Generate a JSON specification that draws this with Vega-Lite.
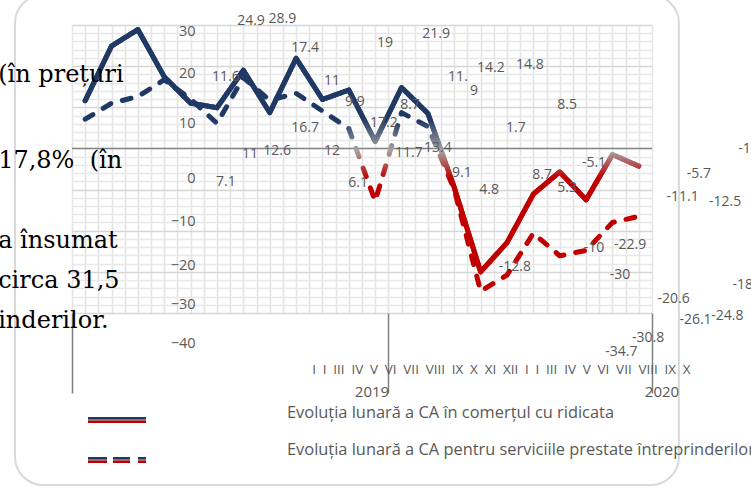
{
  "$schema": "https://vega.github.io/schema/vega-lite/v6.json",
  "width": 580,
  "height": 288,
  "autosize": {"type": "none"},
  "padding": {"left": 72, "top": 25, "right": 99, "bottom": 175},
  "background": "white",
  "config": {"view": {"stroke": null}, "text": {"font": "Open Sans"}},
  "resolve": {"axis": {"x": "independent", "y": "independent"}},
  "datasets": {
    "series": [
      {"s": "A", "m": 1, "v": 11.6}, {"s": "A", "m": 2, "v": 24.9}, {"s": "A", "m": 3, "v": 28.9},
      {"s": "A", "m": 4, "v": 17.4}, {"s": "A", "m": 5, "v": 11}, {"s": "A", "m": 6, "v": 9.9},
      {"s": "A", "m": 7, "v": 19}, {"s": "A", "m": 8, "v": 8.7}, {"s": "A", "m": 9, "v": 21.9},
      {"s": "A", "m": 10, "v": 11.9}, {"s": "A", "m": 11, "v": 14.2}, {"s": "A", "m": 12, "v": 1.7},
      {"s": "A", "m": 13, "v": 14.8}, {"s": "A", "m": 14, "v": 8.5}, {"s": "A", "m": 15, "v": -9.5},
      {"s": "A", "m": 16, "v": -30}, {"s": "A", "m": 17, "v": -22.9}, {"s": "A", "m": 18, "v": -11.1},
      {"s": "A", "m": 19, "v": -5.7}, {"s": "A", "m": 20, "v": -12.5}, {"s": "A", "m": 21, "v": -1.5},
      {"s": "A", "m": 22, "v": -4.3},
      {"s": "B", "m": 1, "v": 7.1}, {"s": "B", "m": 2, "v": 11}, {"s": "B", "m": 3, "v": 12.6},
      {"s": "B", "m": 4, "v": 16.7}, {"s": "B", "m": 5, "v": 12}, {"s": "B", "m": 6, "v": 6.1},
      {"s": "B", "m": 7, "v": 17.2}, {"s": "B", "m": 8, "v": 11.7}, {"s": "B", "m": 9, "v": 13.4},
      {"s": "B", "m": 10, "v": 9.1}, {"s": "B", "m": 11, "v": 4.8}, {"s": "B", "m": 12, "v": -12.8},
      {"s": "B", "m": 13, "v": 8.7}, {"s": "B", "m": 14, "v": 5.3}, {"s": "B", "m": 15, "v": -10},
      {"s": "B", "m": 16, "v": -34.7}, {"s": "B", "m": 17, "v": -30.8}, {"s": "B", "m": 18, "v": -20.6},
      {"s": "B", "m": 19, "v": -26.1}, {"s": "B", "m": 20, "v": -24.8}, {"s": "B", "m": 21, "v": -18},
      {"s": "B", "m": 22, "v": -16.5}
    ],
    "labels": [
      {"lab": "24.9", "m": 7.29, "v": 30.97}, {"lab": "28.9", "m": 8.48, "v": 31.46},
      {"lab": "17.4", "m": 9.34, "v": 24.41}, {"lab": "11.6", "m": 6.34, "v": 17.36},
      {"lab": "11", "m": 10.36, "v": 16.39}, {"lab": "9.9", "m": 11.23, "v": 11.28},
      {"lab": "16.7", "m": 9.34, "v": 4.97}, {"lab": "12", "m": 10.36, "v": -0.63},
      {"lab": "11", "m": 7.25, "v": -1.35}, {"lab": "12.6", "m": 8.28, "v": -0.63},
      {"lab": "7.1", "m": 6.34, "v": -8.16}, {"lab": "6.1", "m": 11.35, "v": -8.4},
      {"lab": "19", "m": 12.37, "v": 25.62}, {"lab": "21.9", "m": 14.31, "v": 27.81},
      {"lab": "11.", "m": 15.14, "v": 17.36}, {"lab": "9", "m": 15.75, "v": 13.96},
      {"lab": "14.2", "m": 16.39, "v": 19.55}, {"lab": "14.8", "m": 17.87, "v": 20.28},
      {"lab": "8.5", "m": 19.28, "v": 10.55}, {"lab": "1.7", "m": 17.34, "v": 4.97},
      {"lab": "8.7", "m": 13.32, "v": 10.55}, {"lab": "17.2", "m": 12.33, "v": 6.18},
      {"lab": "11.7", "m": 13.28, "v": -1.11}, {"lab": "13.4", "m": 14.38, "v": 0.1},
      {"lab": "9.1", "m": 15.29, "v": -5.97}, {"lab": "4.8", "m": 16.32, "v": -10.11},
      {"lab": "8.7", "m": 18.33, "v": -6.46}, {"lab": "5.3", "m": 19.28, "v": -9.62},
      {"lab": "-5.1", "m": 20.3, "v": -3.54}, {"lab": "-12.8", "m": 17.3, "v": -28.82},
      {"lab": "-10", "m": 20.3, "v": -24.2}, {"lab": "-22.9", "m": 21.67, "v": -23.47},
      {"lab": "-30", "m": 21.29, "v": -30.77}, {"lab": "-5.7", "m": 24.28, "v": -6.22},
      {"lab": "-11.1", "m": 23.66, "v": -11.88}, {"lab": "-12.5", "m": 25.27, "v": -12.94},
      {"lab": "-20.6", "m": 23.32, "v": -36.6}, {"lab": "-26.1", "m": 24.15, "v": -41.7},
      {"lab": "-24.8", "m": 25.36, "v": -40.73}, {"lab": "-30.8", "m": 22.35, "v": -46.08},
      {"lab": "-34.7", "m": 21.34, "v": -49.41}, {"lab": "-18.4", "m": 26.16, "v": -33.2},
      {"lab": "-16.5", "m": 26.38, "v": -0.14}
    ]
  },
  "layer": [
    {
      "data": {"values": [{}]},
      "mark": {"type": "rect", "filled": false, "stroke": "#d9d9d9", "strokeWidth": 2, "cornerRadius": 28},
      "encoding": {
        "x": {"datum": -1.662, "type": "quantitative", "scale": {"domain": [0.5, 22.5], "nice": false, "zero": false}, "axis": null},
        "x2": {"datum": 23.52},
        "y": {"datum": 37.29, "type": "quantitative", "scale": {"domain": [-40, 30], "nice": false, "zero": false}, "axis": null},
        "y2": {"datum": -81.8}
      }
    },
    {
      "data": {"name": "series"},
      "transform": [{"filter": "datum.s === 'A'"}],
      "mark": {
        "type": "line", "strokeWidth": 5, "strokeCap": "round", "strokeJoin": "round",
        "stroke": {"gradient": "linear", "x1": 0, "y1": 0, "x2": 0, "y2": 1, "stops": [
          {"offset": 0, "color": "#203864"}, {"offset": 0.37, "color": "#203864"},
          {"offset": 0.5, "color": "#a5a5a5"}, {"offset": 0.61, "color": "#c00000"}, {"offset": 1, "color": "#c00000"}]}
      },
      "encoding": {
        "x": {
          "field": "m", "type": "quantitative",
          "scale": {"domain": [0.5, 22.5], "nice": false, "zero": false},
          "axis": {
            "orient": "bottom", "title": null, "labels": false, "domain": false,
            "values": [0.5, 1, 1.5, 2, 2.5, 3, 3.5, 4, 4.5, 5, 5.5, 6, 6.5, 7, 7.5, 8, 8.5, 9, 9.5, 10, 10.5, 11, 11.5, 12, 12.5, 13, 13.5, 14, 14.5, 15, 15.5, 16, 16.5, 17, 17.5, 18, 18.5, 19, 19.5, 20, 20.5, 21, 21.5, 22, 22.5],
            "grid": true, "gridColor": "#e4e4e4", "gridWidth": 1.5,
            "ticks": true, "tickSize": 80, "tickColor": "#7f7f7f", "tickWidth": 1.5,
            "tickOpacity": {"condition": {"test": "datum.value === 0.5 || datum.value === 12.5 || datum.value === 22.5", "value": 1}, "value": 0}
          }
        },
        "y": {
          "field": "v", "type": "quantitative",
          "scale": {"domain": [-40, 30], "nice": false, "zero": false},
          "axis": {
            "orient": "left", "title": null, "domain": false, "ticks": false,
            "values": [-40, -38, -36, -34, -32, -30, -28, -26, -24, -22, -20, -18, -16, -14, -12, -10, -8, -6, -4, -2, 0, 2, 4, 6, 8, 10, 12, 14, 16, 18, 20, 22, 24, 26, 28, 30],
            "grid": true, "gridWidth": 1.5,
            "gridColor": {"condition": {"test": "datum.value % 10 === 0", "value": "#d6d6d6"}, "value": "#e8e8e8"},
            "labelExpr": "datum.value % 10 === 0 ? datum.label : ''",
            "labelOverlap": false, "labelFlush": false, "labelBound": false,
            "offset": -123, "labelPadding": 0,
            "labelFont": "Open Sans", "labelFontSize": 14.5, "labelColor": "#595959",
            "labelOffset": {"condition": [
              {"test": "datum.value === 30", "value": 6},
              {"test": "datum.value === 20", "value": 7},
              {"test": "datum.value === 10", "value": 16},
              {"test": "datum.value === 0", "value": 30},
              {"test": "datum.value === -10", "value": 32},
              {"test": "datum.value === -20", "value": 35},
              {"test": "datum.value === -30", "value": 33}], "value": 30}
          }
        },
        "strokeDash": {
          "field": "s", "type": "nominal",
          "scale": {"domain": ["A", "B"], "range": [[1, 0], [9, 12]]},
          "legend": {
            "orient": "none", "legendX": 16, "legendY": 367, "direction": "vertical",
            "title": null, "padding": 0, "rowPadding": 5,
            "labelExpr": "datum.value === 'A' ? 'Evoluția lunară a CA în comerțul cu ridicata' : 'Evoluția lunară a CA pentru serviciile prestate întreprinderilor'",
            "labelFont": "Open Sans", "labelFontSize": 16.4, "labelColor": "#595959",
            "labelLimit": 0, "labelOffset": 141, "labelBaseline": "bottom",
            "symbolSize": 3364, "symbolStrokeWidth": 0, "symbolOpacity": 0,
            "symbolType": "M-1,-0.1H1V0.1H-1Z"
          }
        }
      }
    },
    {
      "data": {"values": [{}]},
      "mark": {"type": "rule", "color": "#868686", "strokeWidth": 1.5},
      "encoding": {
        "y": {"datum": 0, "type": "quantitative", "scale": {"domain": [-40, 30], "nice": false, "zero": false}, "axis": null}
      }
    },
    {
      "data": {"name": "series"},
      "transform": [{"filter": "datum.s === 'A'"}],
      "mark": {
        "type": "line", "strokeWidth": 5, "strokeCap": "round", "strokeJoin": "round",
        "stroke": {"gradient": "linear", "x1": 0, "y1": 0, "x2": 0, "y2": 1, "stops": [
          {"offset": 0, "color": "#203864"}, {"offset": 0.37, "color": "#203864"},
          {"offset": 0.5, "color": "#a5a5a5"}, {"offset": 0.61, "color": "#c00000"}, {"offset": 1, "color": "#c00000"}]}
      },
      "encoding": {
        "x": {"field": "m", "type": "quantitative", "scale": {"domain": [0.5, 22.5], "nice": false, "zero": false}, "axis": null},
        "y": {"field": "v", "type": "quantitative", "scale": {"domain": [-40, 30], "nice": false, "zero": false}, "axis": null},
        "strokeDash": {"field": "s", "type": "nominal", "scale": {"domain": ["A", "B"], "range": [[1, 0], [9, 12]]}, "legend": null}
      }
    },
    {
      "data": {"name": "series"},
      "transform": [{"filter": "datum.s === 'B'"}],
      "mark": {
        "type": "line", "strokeWidth": 5, "strokeCap": "round", "strokeJoin": "round",
        "stroke": {"gradient": "linear", "x1": 0, "y1": 0, "x2": 0, "y2": 1, "stops": [
          {"offset": 0, "color": "#203864"}, {"offset": 0.2, "color": "#203864"},
          {"offset": 0.34, "color": "#a5a5a5"}, {"offset": 0.47, "color": "#c00000"}, {"offset": 1, "color": "#c00000"}]}
      },
      "encoding": {
        "x": {"field": "m", "type": "quantitative", "scale": {"domain": [0.5, 22.5], "nice": false, "zero": false}, "axis": null},
        "y": {"field": "v", "type": "quantitative", "scale": {"domain": [-40, 30], "nice": false, "zero": false}, "axis": null},
        "strokeDash": {"field": "s", "type": "nominal", "scale": {"domain": ["A", "B"], "range": [[1, 0], [9, 12]]}, "legend": null}
      }
    },
    {
      "data": {"values": [{}]},
      "mark": {"type": "rect", "fill": {"gradient": "linear", "x1": 0, "y1": 0, "x2": 0, "y2": 1, "stops": [
          {"offset": 0, "color": "#203864"}, {"offset": 0.3, "color": "#203864"},
          {"offset": 0.5, "color": "#a5a5a5"}, {"offset": 0.7, "color": "#c00000"}, {"offset": 1, "color": "#c00000"}]}},
      "encoding": {
        "x": {"datum": 1.107, "type": "quantitative", "scale": {"domain": [0.5, 22.5], "nice": false, "zero": false}, "axis": null},
        "x2": {"datum": 3.307},
        "y": {"datum": -65.28, "type": "quantitative", "scale": {"domain": [-40, 30], "nice": false, "zero": false}, "axis": null},
        "y2": {"datum": -66.74}
      }
    },
    {
      "data": {"values": [{}]},
      "mark": {"type": "rect", "fill": {"gradient": "linear", "x1": 0, "y1": 0, "x2": 0, "y2": 1, "stops": [
          {"offset": 0, "color": "#203864"}, {"offset": 0.3, "color": "#203864"},
          {"offset": 0.5, "color": "#a5a5a5"}, {"offset": 0.7, "color": "#c00000"}, {"offset": 1, "color": "#c00000"}]}},
      "encoding": {
        "x": {"datum": 1.107, "type": "quantitative", "scale": {"domain": [0.5, 22.5], "nice": false, "zero": false}, "axis": null},
        "x2": {"datum": 1.828},
        "y": {"datum": -75.0, "type": "quantitative", "scale": {"domain": [-40, 30], "nice": false, "zero": false}, "axis": null},
        "y2": {"datum": -76.46}
      }
    },
    {
      "data": {"values": [{}]},
      "mark": {"type": "rect", "fill": {"gradient": "linear", "x1": 0, "y1": 0, "x2": 0, "y2": 1, "stops": [
          {"offset": 0, "color": "#203864"}, {"offset": 0.3, "color": "#203864"},
          {"offset": 0.5, "color": "#a5a5a5"}, {"offset": 0.7, "color": "#c00000"}, {"offset": 1, "color": "#c00000"}]}},
      "encoding": {
        "x": {"datum": 2.055, "type": "quantitative", "scale": {"domain": [0.5, 22.5], "nice": false, "zero": false}, "axis": null},
        "x2": {"datum": 2.7},
        "y": {"datum": -75.0, "type": "quantitative", "scale": {"domain": [-40, 30], "nice": false, "zero": false}, "axis": null},
        "y2": {"datum": -76.46}
      }
    },
    {
      "data": {"values": [{}]},
      "mark": {"type": "rect", "fill": {"gradient": "linear", "x1": 0, "y1": 0, "x2": 0, "y2": 1, "stops": [
          {"offset": 0, "color": "#203864"}, {"offset": 0.3, "color": "#203864"},
          {"offset": 0.5, "color": "#a5a5a5"}, {"offset": 0.7, "color": "#c00000"}, {"offset": 1, "color": "#c00000"}]}},
      "encoding": {
        "x": {"datum": 3.003, "type": "quantitative", "scale": {"domain": [0.5, 22.5], "nice": false, "zero": false}, "axis": null},
        "x2": {"datum": 3.307},
        "y": {"datum": -75.0, "type": "quantitative", "scale": {"domain": [-40, 30], "nice": false, "zero": false}, "axis": null},
        "y2": {"datum": -76.46}
      }
    },
    {
      "data": {"name": "labels"},
      "mark": {"type": "text", "font": "Open Sans", "fontSize": 14, "color": "#595959", "align": "center", "baseline": "middle"},
      "encoding": {
        "x": {"field": "m", "type": "quantitative", "scale": {"domain": [0.5, 22.5], "nice": false, "zero": false}, "axis": null},
        "y": {"field": "v", "type": "quantitative", "scale": {"domain": [-40, 30], "nice": false, "zero": false}, "axis": null},
        "text": {"field": "lab"}
      }
    },
    {
      "data": {"values": [{}]},
      "mark": {"type": "text", "font": "Open Sans", "fontSize": 13.5, "color": "#595959", "align": "center", "baseline": "middle", "text": "I\u2002I\u2002III\u2002IV\u2002V\u2002VI\u2002VII\u2002VIII\u2002IX\u2002X\u2002XI\u2002XII\u2002I\u2002I\u2002III\u2002IV\u2002V\u2002VI\u2002VII\u2002VIII\u2002IX\u2002X"},
      "encoding": {
        "x": {"datum": 16.79, "type": "quantitative", "scale": {"domain": [0.5, 22.5], "nice": false, "zero": false}, "axis": null},
        "y": {"datum": -53.85, "type": "quantitative", "scale": {"domain": [-40, 30], "nice": false, "zero": false}, "axis": null}
      }
    },
    {
      "data": {"values": [{}]},
      "mark": {"type": "text", "font": "Open Sans", "fontSize": 15, "color": "#595959", "align": "center", "baseline": "middle", "text": "2019"},
      "encoding": {
        "x": {"datum": 11.88, "type": "quantitative", "scale": {"domain": [0.5, 22.5], "nice": false, "zero": false}, "axis": null},
        "y": {"datum": -59.2, "type": "quantitative", "scale": {"domain": [-40, 30], "nice": false, "zero": false}, "axis": null}
      }
    },
    {
      "data": {"values": [{}]},
      "mark": {"type": "text", "font": "Open Sans", "fontSize": 15, "color": "#595959", "align": "center", "baseline": "middle", "text": "2020"},
      "encoding": {
        "x": {"datum": 22.88, "type": "quantitative", "scale": {"domain": [0.5, 22.5], "nice": false, "zero": false}, "axis": null},
        "y": {"datum": -59.2, "type": "quantitative", "scale": {"domain": [-40, 30], "nice": false, "zero": false}, "axis": null}
      }
    },
    {
      "data": {"values": [{}]},
      "mark": {"type": "text", "font": "DejaVu Serif", "fontSize": 24, "color": "#000000", "align": "left", "baseline": "alphabetic", "text": "(în prețuri"},
      "encoding": {
        "x": {"datum": -2.3, "type": "quantitative", "scale": {"domain": [0.5, 22.5], "nice": false, "zero": false}, "axis": null},
        "y": {"datum": 16.15, "type": "quantitative", "scale": {"domain": [-40, 30], "nice": false, "zero": false}, "axis": null}
      }
    },
    {
      "data": {"values": [{}]},
      "mark": {"type": "text", "font": "DejaVu Serif", "fontSize": 24, "color": "#000000", "align": "left", "baseline": "alphabetic", "text": "17,8%\u00a0\u00a0(în"},
      "encoding": {
        "x": {"datum": -2.3, "type": "quantitative", "scale": {"domain": [0.5, 22.5], "nice": false, "zero": false}, "axis": null},
        "y": {"datum": -4.76, "type": "quantitative", "scale": {"domain": [-40, 30], "nice": false, "zero": false}, "axis": null}
      }
    },
    {
      "data": {"values": [{}]},
      "mark": {"type": "text", "font": "DejaVu Serif", "fontSize": 24, "color": "#000000", "align": "left", "baseline": "alphabetic", "text": "a însumat"},
      "encoding": {
        "x": {"datum": -2.3, "type": "quantitative", "scale": {"domain": [0.5, 22.5], "nice": false, "zero": false}, "axis": null},
        "y": {"datum": -24.2, "type": "quantitative", "scale": {"domain": [-40, 30], "nice": false, "zero": false}, "axis": null}
      }
    },
    {
      "data": {"values": [{}]},
      "mark": {"type": "text", "font": "DejaVu Serif", "fontSize": 24, "color": "#000000", "align": "left", "baseline": "alphabetic", "text": "circa 31,5"},
      "encoding": {
        "x": {"datum": -2.3, "type": "quantitative", "scale": {"domain": [0.5, 22.5], "nice": false, "zero": false}, "axis": null},
        "y": {"datum": -33.92, "type": "quantitative", "scale": {"domain": [-40, 30], "nice": false, "zero": false}, "axis": null}
      }
    },
    {
      "data": {"values": [{}]},
      "mark": {"type": "text", "font": "DejaVu Serif", "fontSize": 24, "color": "#000000", "align": "left", "baseline": "alphabetic", "text": "inderilor."},
      "encoding": {
        "x": {"datum": -2.3, "type": "quantitative", "scale": {"domain": [0.5, 22.5], "nice": false, "zero": false}, "axis": null},
        "y": {"datum": -43.65, "type": "quantitative", "scale": {"domain": [-40, 30], "nice": false, "zero": false}, "axis": null}
      }
    }
  ]
}
